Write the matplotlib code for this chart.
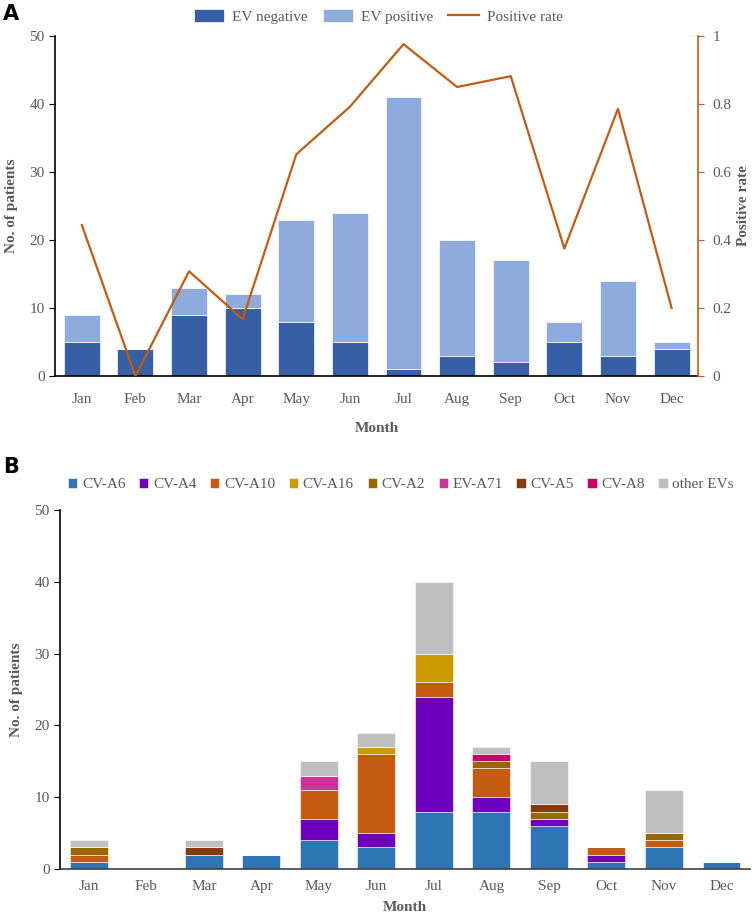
import matplotlib.pyplot as plt
import numpy as np

months = ['Jan', 'Feb', 'Mar', 'Apr', 'May', 'Jun', 'Jul', 'Aug', 'Sep', 'Oct', 'Nov', 'Dec']

# panel A
ev_negative = [5, 4, 9, 10, 8, 5, 1, 3, 2, 5, 3, 4]
ev_positive = [4, 0, 4, 2, 15, 19, 40, 17, 15, 3, 11, 1]
positive_rate = [0.444, 0.0, 0.308, 0.167, 0.652, 0.792, 0.976, 0.85, 0.882, 0.375, 0.786, 0.2]

# panel B
types = ['CV-A6', 'CV-A4', 'CV-A10', 'CV-A16', 'CV-A2', 'EV-A71', 'CV-A5', 'CV-A8', 'other EVs']
cv_a6 = [1, 0, 2, 2, 4, 3, 8, 8, 6, 1, 3, 1]
cv_a4 = [0, 0, 0, 0, 3, 2, 16, 2, 1, 1, 0, 0]
cv_a10 = [1, 0, 0, 0, 4, 11, 2, 4, 0, 1, 1, 0]
cv_a16 = [0, 0, 0, 0, 0, 1, 4, 0, 0, 0, 0, 0]
cv_a2 = [1, 0, 0, 0, 0, 0, 0, 1, 1, 0, 1, 0]
ev_a71 = [0, 0, 0, 0, 2, 0, 0, 0, 0, 0, 0, 0]
cv_a5 = [0, 0, 1, 0, 0, 0, 0, 0, 1, 0, 0, 0]
cv_a8 = [0, 0, 0, 0, 0, 0, 0, 1, 0, 0, 0, 0]
other_evs = [1, 0, 1, 0, 2, 2, 10, 1, 6, 0, 6, 0]
type_colors = ['#2E75B6', '#7000C0', '#C55A11', '#CC9900', '#996600',
               '#CC3399', '#843C0C', '#CC0066', '#BFBFBF']

plt.rcParams['font.family'] = ['Liberation Serif']
grey = '#595959'

fig = plt.figure(figsize=(7.56, 9.14), dpi=100)
x = np.arange(len(months))

# ---- Panel A
ax = fig.add_axes([0.0728, 0.5886, 0.851, 0.372])
ax.bar(x, ev_negative, width=0.67, color='#365FA5', edgecolor='white', linewidth=0.5, label='EV negative')
ax.bar(x, ev_positive, width=0.67, bottom=ev_negative, color='#8FAADC', edgecolor='white', linewidth=0.5,
       label='EV positive')
ax.set_xlim(-0.5, 11.5)
ax.set_ylim(0, 50)
ax.set_yticks(range(0, 51, 10))
ax.set_xticks(x)
ax.set_xticklabels(months)
ax.tick_params(axis='both', labelsize=11, colors=grey, length=4)
ax.tick_params(axis='y', color='black')
ax.tick_params(axis='x', length=0, pad=12)
for s in ['top', 'right']:
    ax.spines[s].set_visible(False)
ax.spines['left'].set_linewidth(1.2)
ax.spines['bottom'].set_linewidth(1.2)
ax.set_ylabel('No. of patients', fontsize=11, fontweight='bold', color=grey, labelpad=8)
ax.set_xlabel('Month', fontsize=11, fontweight='bold', color=grey, labelpad=12)

ax2 = ax.twinx()
ax2.plot(x, positive_rate, color='#C55A11', linewidth=1.6, label='Positive rate')
ax2.set_ylim(0, 1)
ax2.set_yticks([0, 0.2, 0.4, 0.6, 0.8, 1])
ax2.set_yticklabels(['0', '0.2', '0.4', '0.6', '0.8', '1'])
ax2.tick_params(axis='y', labelsize=11, colors=grey, color='#C55A11', length=4, pad=6)
for s in ['top', 'left', 'bottom']:
    ax2.spines[s].set_visible(False)
ax2.spines['right'].set_color('#C55A11')
ax2.spines['right'].set_linewidth(1.2)
ax2.set_ylabel('Positive rate', fontsize=11, fontweight='bold', color=grey, labelpad=4)

h1, l1 = ax.get_legend_handles_labels()
h2, l2 = ax2.get_legend_handles_labels()
fig.legend(h1 + h2, l1 + l2, loc='center', bbox_to_anchor=(0.5, 0.982), ncol=3, frameon=False,
           fontsize=11, handlelength=2.0, handleheight=0.9, handletextpad=0.5, columnspacing=1.0,
           labelcolor=grey)
fig.text(0.004, 0.985, 'A', fontsize=15, fontweight='bold', family='DejaVu Sans', va='center')

# ---- Panel B
bx = fig.add_axes([0.0794, 0.0492, 0.913, 0.393])
series = [cv_a6, cv_a4, cv_a10, cv_a16, cv_a2, ev_a71, cv_a5, cv_a8, other_evs]
bottom = np.zeros(len(months))
for name, vals, col in zip(types, series, type_colors):
    bx.bar(x, vals, width=0.66, bottom=bottom, color=col, edgecolor='white', linewidth=0.4, label=name)
    bottom += np.array(vals)
bx.set_xlim(-0.5, 11.5)
bx.set_ylim(0, 50)
bx.set_yticks(range(0, 51, 10))
bx.set_xticks(x)
bx.set_xticklabels(months)
bx.tick_params(axis='both', labelsize=11, colors=grey, length=4)
bx.tick_params(axis='y', color='black')
bx.tick_params(axis='x', length=0, pad=8)
for s in ['top', 'right']:
    bx.spines[s].set_visible(False)
bx.spines['left'].set_linewidth(1.2)
bx.spines['bottom'].set_linewidth(1.2)
bx.spines['bottom'].set_color('#404040')
bx.set_ylabel('No. of patients', fontsize=11, fontweight='bold', color=grey, labelpad=8)
bx.set_xlabel('Month', fontsize=11, fontweight='bold', color=grey, labelpad=6)
bx.legend(loc='center', bbox_to_anchor=(0.494, 1.07), ncol=9, frameon=False, fontsize=11,
          handlelength=0.6, handleheight=0.6, handletextpad=0.3, columnspacing=0.9, labelcolor=grey)
fig.text(0.004, 0.489, 'B', fontsize=15, fontweight='bold', family='DejaVu Sans', va='center')

plt.savefig('out.png', dpi=100)
